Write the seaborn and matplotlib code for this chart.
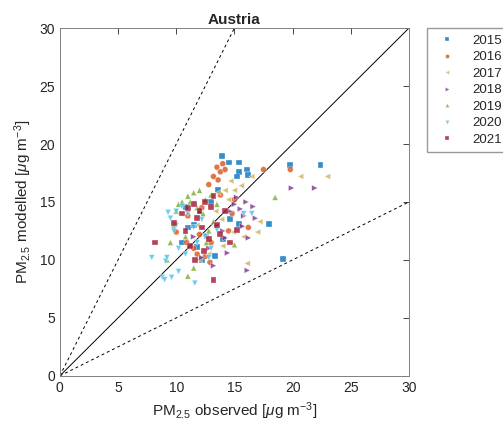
import numpy as np
import pandas as pd
import seaborn as sns
import matplotlib.pyplot as plt

# observed / modelled PM2.5 per year
obs_2015 = [13.9, 14.5, 15.4, 15.4, 16.1, 16.2, 15.2, 19.8, 22.4, 19.2, 14.6, 15.4, 18.0, 12.6, 11.8, 13.3, 11.0, 12.0, 10.5, 13.0, 11.5, 14.0, 12.2, 10.8, 13.6]
mod_2015 = [19.0, 18.4, 18.4, 17.6, 17.8, 17.3, 17.2, 18.2, 18.2, 10.1, 13.5, 13.1, 13.1, 12.1, 11.1, 10.3, 12.8, 14.2, 11.5, 15.0, 13.0, 11.8, 10.0, 14.6, 16.0]

obs_2016 = [13.5, 13.8, 14.0, 13.2, 13.6, 14.2, 12.8, 17.5, 19.8, 16.2, 12.0, 11.0, 13.0, 12.5, 14.5, 10.0, 11.5, 12.2, 13.8, 15.0, 11.8, 10.9, 12.9, 14.8]
mod_2016 = [18.0, 17.6, 18.3, 17.2, 16.9, 17.8, 16.5, 17.8, 17.8, 12.8, 12.2, 13.8, 11.5, 10.3, 12.5, 12.4, 11.0, 14.5, 15.6, 15.2, 10.5, 11.5, 9.8, 14.0]

obs_2017 = [20.7, 23.0, 14.9, 17.0, 16.1, 13.6, 14.2, 15.0, 15.6, 14.7, 13.0, 16.5, 12.5, 14.0, 11.8, 13.4, 15.8, 12.8, 14.5, 17.2, 13.9, 12.0]
mod_2017 = [17.2, 17.2, 12.4, 12.4, 9.7, 15.8, 16.0, 16.0, 16.4, 16.8, 15.5, 17.2, 12.0, 11.2, 13.0, 14.2, 12.0, 10.5, 15.2, 13.3, 13.5, 10.0]

obs_2018 = [19.9, 21.9, 14.2, 16.2, 15.7, 16.1, 15.0, 15.5, 16.0, 14.6, 15.2, 16.6, 13.5, 12.8, 14.0, 12.2, 13.2, 15.8, 11.5, 14.4, 16.8]
mod_2018 = [16.2, 16.2, 11.9, 11.9, 12.9, 9.1, 14.8, 14.4, 15.0, 14.2, 15.4, 14.6, 13.0, 11.0, 12.5, 10.2, 9.5, 13.8, 12.0, 10.6, 13.6]

obs_2019 = [18.5, 15.0, 10.5, 11.0, 11.5, 12.0, 12.5, 13.0, 10.2, 11.8, 12.3, 11.2, 13.2, 9.5, 10.8, 12.8, 9.2, 11.5, 10.0, 12.6, 13.5, 9.8, 11.0]
mod_2019 = [15.4, 11.3, 15.0, 15.5, 15.8, 16.0, 15.2, 15.6, 14.8, 14.5, 14.0, 15.0, 13.3, 11.5, 12.0, 12.5, 10.0, 9.3, 14.2, 11.5, 14.8, 13.0, 8.6]

obs_2020 = [15.8, 16.5, 7.9, 9.1, 9.5, 10.0, 10.5, 11.0, 9.8, 10.2, 11.5, 8.8, 9.2, 10.8, 11.8, 12.2, 10.2, 9.0, 9.6, 12.5, 13.0, 10.0, 11.6, 9.3, 12.8, 13.5]
mod_2020 = [14.0, 14.0, 10.2, 9.9, 13.6, 14.2, 14.6, 14.0, 12.5, 11.0, 12.8, 8.5, 10.2, 10.5, 11.5, 13.5, 9.0, 8.3, 8.5, 12.0, 11.0, 13.0, 8.0, 14.1, 10.2, 12.6]

obs_2021 = [11.0, 11.5, 12.0, 12.5, 13.0, 11.8, 12.2, 10.5, 13.5, 12.8, 11.2, 8.2, 14.2, 13.8, 12.4, 11.6, 10.8, 13.2, 13.2, 9.8, 14.6, 15.2]
mod_2021 = [14.5, 14.8, 14.2, 15.0, 14.6, 13.6, 12.8, 14.0, 13.0, 11.8, 11.2, 11.5, 14.2, 12.2, 10.8, 10.0, 12.5, 15.5, 8.3, 13.2, 11.5, 12.6]

years = ["2015", "2016", "2017", "2018", "2019", "2020", "2021"]
obs = [obs_2015, obs_2016, obs_2017, obs_2018, obs_2019, obs_2020, obs_2021]
mod = [mod_2015, mod_2016, mod_2017, mod_2018, mod_2019, mod_2020, mod_2021]

colors = ["#0072BD", "#D95319", "#C9B15A", "#7E2F8E", "#77AC30", "#4DBEEE", "#A2142F"]
markers = ["s", "o", "<", ">", "^", "v", "s"]

df = pd.concat(
    [pd.DataFrame({"observed": o, "modelled": m, "year": y}) for o, m, y in zip(obs, mod, years)],
    ignore_index=True,
)

sns.set_style("white")
plt.rcParams["font.family"] = ["Liberation Sans", "DejaVu Sans"]
plt.rcParams["mathtext.fontset"] = "custom"
plt.rcParams["mathtext.rm"] = "Liberation Sans"
plt.rcParams["mathtext.it"] = "Liberation Sans:italic"

fig = plt.figure(figsize=(5.03, 4.32), dpi=100)
ax = fig.add_axes([0.119, 0.130, 0.694, 0.805])

# reference lines 1:1, 2:1, 1:2
line_x = np.array([0, 30])
ax.plot(line_x, line_x, color="black", lw=0.7, zorder=1)
ax.plot(line_x, 2 * line_x, color="black", lw=0.7, ls=(0, (3, 3)), zorder=1)
ax.plot(line_x, 0.5 * line_x, color="black", lw=0.7, ls=(0, (3, 3)), zorder=1)

sns.scatterplot(
    data=df, x="observed", y="modelled", hue="year", style="year",
    palette=dict(zip(years, colors)), markers=dict(zip(years, markers)),
    s=18, alpha=0.8, linewidth=0.3, ax=ax, zorder=2,
)

ax.set_xlim(0, 30)
ax.set_ylim(0, 30)
ax.set_xticks(range(0, 31, 5))
ax.set_yticks(range(0, 31, 5))
ax.tick_params(direction="in", length=4, top=True, right=True, labelsize=10,
               colors="#262626", width=0.6)
for sp in ax.spines.values():
    sp.set_color("#808080")
    sp.set_linewidth(0.7)

ax.set_title("Austria", fontsize=11, fontweight="bold", pad=3)
ax.set_xlabel(r"PM$_{2.5}$ observed [$\mu$g m$^{-3}$]", fontsize=11, color="#262626")
ax.set_ylabel(r"PM$_{2.5}$ modelled [$\mu$g m$^{-3}$]", fontsize=11, color="#262626")

sns.move_legend(ax, "upper left", bbox_to_anchor=(1.052, 1.0), title=None, frameon=True,
                fontsize=9.5, handletextpad=0.9, labelspacing=0.32, borderpad=0.5,
                borderaxespad=0, markerscale=0.7, fancybox=False, edgecolor="#808080")

fig.savefig("out.png", dpi=100)
